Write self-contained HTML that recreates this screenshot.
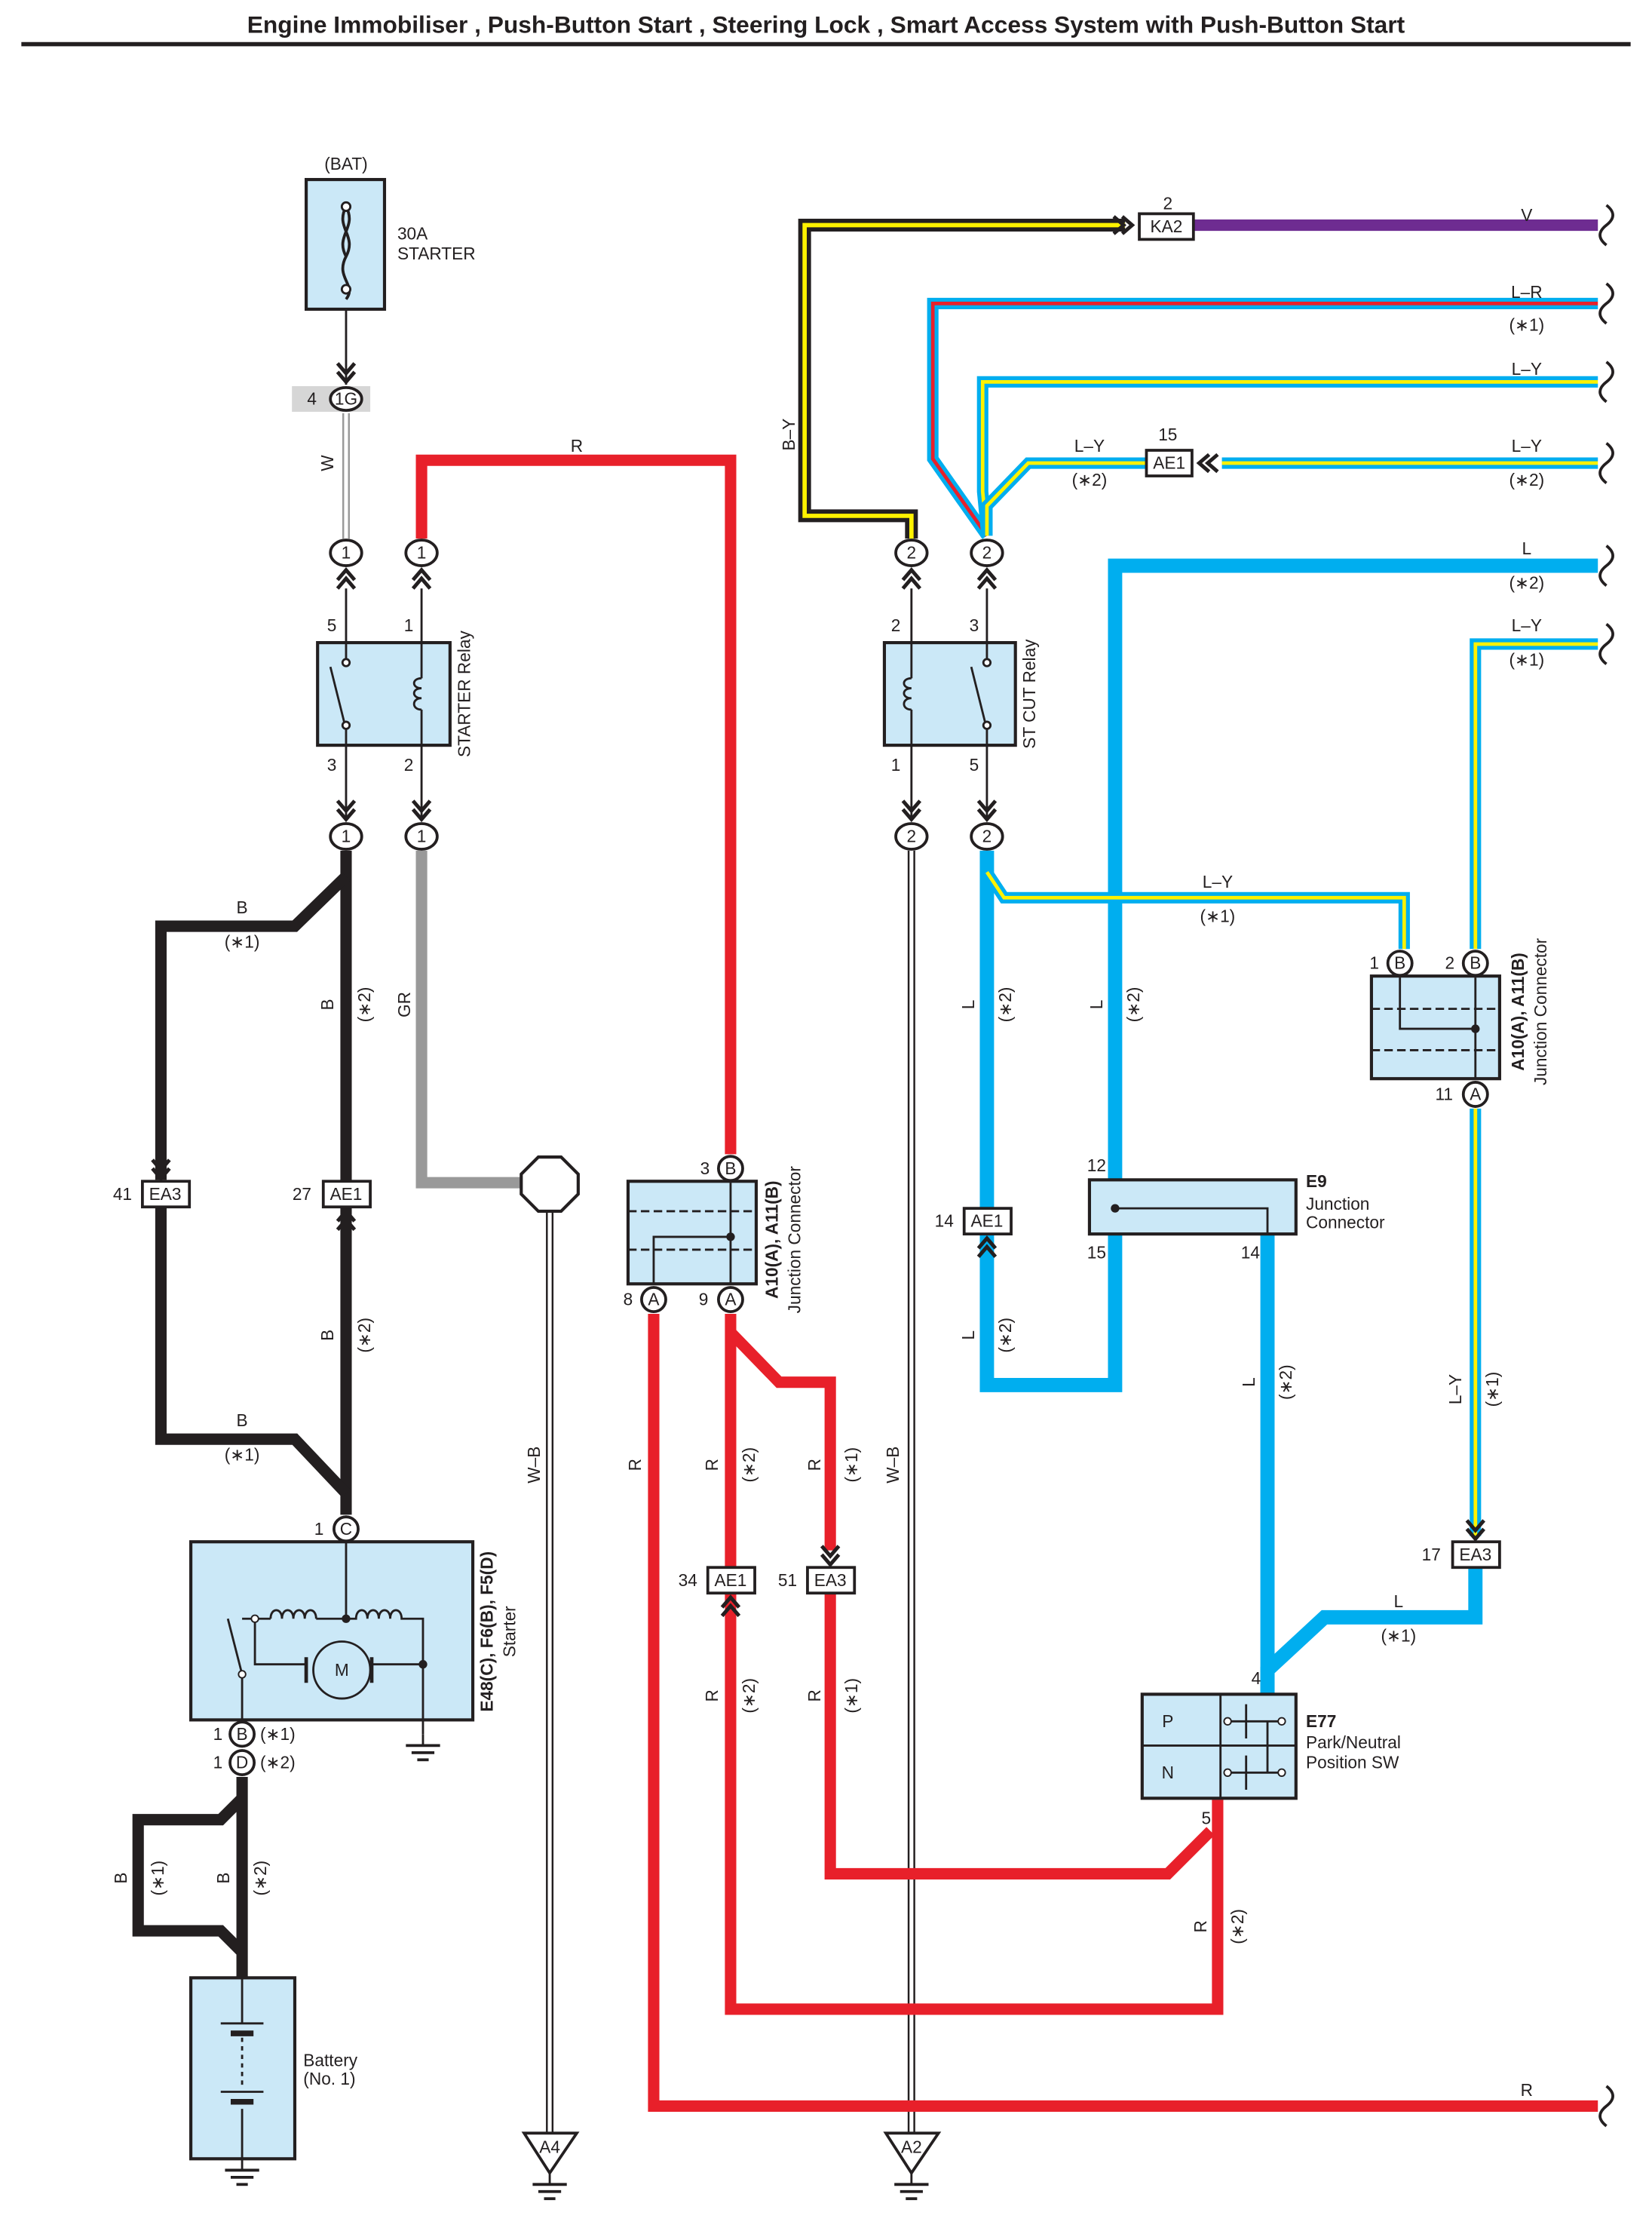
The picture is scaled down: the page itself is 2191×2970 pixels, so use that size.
<!DOCTYPE html>
<html><head><meta charset="utf-8"><style>
html,body{margin:0;padding:0;background:#fff}
svg{display:block}
text{font-family:"Liberation Sans",Arial,sans-serif;font-size:12px;fill:#231f20}
.b{font-weight:bold}
</style></head><body>
<svg width="2191" height="2970" viewBox="0 0 1160 1572" preserveAspectRatio="none" xmlns="http://www.w3.org/2000/svg">
<defs>
<path id="cu" d="M-6,7 L0,0 L6,7 M-6,13 L0,6 L6,13" stroke="#231f20" stroke-width="2.6" fill="none"/>
<path id="cd" d="M-6,-7 L0,0 L6,-7 M-6,-13 L0,-6 L6,-13" stroke="#231f20" stroke-width="2.6" fill="none"/>
<path id="cl" d="M7,-6 L0,0 L7,6 M13,-6 L6,0 L13,6" stroke="#231f20" stroke-width="2.6" fill="none"/>
<path id="cr" d="M-7,-6 L0,0 L-7,6 M-13,-6 L-6,0 L-13,6" stroke="#231f20" stroke-width="2.6" fill="none"/>
<path id="brk" d="M0,-14 q9,7 0,14 q-9,7 0,14" stroke="#231f20" stroke-width="2" fill="none" transform="translate(0,0)"/>
<g id="gnd"><line x1="0" y1="0" x2="0" y2="8" stroke="#231f20" stroke-width="1.5"/><line x1="-12" y1="8" x2="12" y2="8" stroke="#231f20" stroke-width="2"/><line x1="-8" y1="13" x2="8" y2="13" stroke="#231f20" stroke-width="2"/><line x1="-4" y1="18" x2="4" y2="18" stroke="#231f20" stroke-width="2"/></g>
</defs>

<text x="580" y="23" text-anchor="middle" class="b" style="font-size:16.8px">Engine Immobiliser , Push-Button Start , Steering Lock , Smart Access System with Push-Button Start</text>
<line x1="15" y1="31" x2="1145" y2="31" stroke="#231f20" stroke-width="3"/>

<g fill="none" stroke-linejoin="miter">
<path d="M640,378 V362 H565 V158 H790" stroke="#231f20" stroke-width="9"/>
<path d="M640,378 V362 H565 V158 H790" stroke="#fff200" stroke-width="3"/>
<path d="M838,158 H1125" stroke="#6e2c91" stroke-width="8"/>
<path d="M693,376 L655,322 V213 H1125" stroke="#00aeef" stroke-width="8"/>
<path d="M693,376 L655,322 V213 H1125" stroke="#e8202a" stroke-width="2.5"/>
<path d="M693,376 L690,345 V268 H1125" stroke="#00aeef" stroke-width="8"/>
<path d="M693,376 L690,345 V268 H1125" stroke="#fff200" stroke-width="2.5"/>
<path d="M693,376 V355 L722,325 H805" stroke="#00aeef" stroke-width="8"/>
<path d="M693,376 V355 L722,325 H805" stroke="#fff200" stroke-width="2.5"/>
<path d="M858,325 H1125" stroke="#00aeef" stroke-width="8"/>
<path d="M858,325 H1125" stroke="#fff200" stroke-width="2.5"/>
<path d="M1125,397 H783 V828" stroke="#00aeef" stroke-width="10"/>
<path d="M1125,452 H1036 V666" stroke="#00aeef" stroke-width="8"/>
<path d="M1125,452 H1036 V666" stroke="#fff200" stroke-width="2.5"/>
<path d="M693,597 V972 H783 V866" stroke="#00aeef" stroke-width="10"/>
<path d="M693,612 L705,630 H986 V666" stroke="#00aeef" stroke-width="8"/>
<path d="M693,612 L705,630 H986 V666" stroke="#fff200" stroke-width="2.5"/>
<path d="M1036,778 V1078" stroke="#00aeef" stroke-width="8"/>
<path d="M1036,778 V1078" stroke="#fff200" stroke-width="2.5"/>
<path d="M1036,1099 V1135 H930 L890,1172 V1190" stroke="#00aeef" stroke-width="10"/>
<path d="M890,866 V1190" stroke="#00aeef" stroke-width="10"/>
<path d="M638,597 V1498 M642,597 V1498" stroke="#231f20" stroke-width="1.3"/>
<path d="M384,850 V1498 M388,850 V1498" stroke="#231f20" stroke-width="1.3"/>
<path d="M241,290 V378 M245,290 V378" stroke="#999" stroke-width="1.3"/>
<path d="M296,378 V323 H513 V810" stroke="#e8202a" stroke-width="8"/>
<path d="M459,922 V1478 H1125" stroke="#e8202a" stroke-width="8"/>
<path d="M513,922 V1410 H855 V1263" stroke="#e8202a" stroke-width="8"/>
<path d="M513,935 L547,970 H583 V1088" stroke="#e8202a" stroke-width="8"/>
<path d="M583,1118 V1315 H820 L850,1285" stroke="#e8202a" stroke-width="8"/>
<path d="M296,597 V830 H366" stroke="#999" stroke-width="8"/>
<path d="M243,597 V1063" stroke="#231f20" stroke-width="8"/>
<path d="M243,615 L207,650 H113 V828 M113,847 V1010 H207 L243,1048" stroke="#231f20" stroke-width="8"/>
<path d="M170,1247 V1390 M170,1262 L155,1277 H97 V1355 H155 L170,1370" stroke="#231f20" stroke-width="8"/>
<path d="M243,217 V270" stroke="#231f20" stroke-width="1.5"/>
</g>

<g stroke="#231f20" stroke-width="2.2" fill="#cbe8f7">
<rect x="215" y="126" width="55" height="91"/>
<rect x="223" y="451" width="93" height="72"/>
<rect x="621" y="451" width="92" height="72"/>
<rect x="963" y="685" width="90" height="72"/>
<rect x="441" y="829" width="90" height="72"/>
<rect x="765" y="828" width="145" height="38"/>
<rect x="802" y="1189" width="108" height="73"/>
<rect x="134" y="1082" width="198" height="125"/>
<rect x="134" y="1388" width="73" height="127"/>
</g>
<rect x="205" y="271" width="55" height="18" fill="#d6d6d6"/>

<path d="M243,145 c-8,15 8,20 0,35 c-8,15 8,20 0,30 M243,145 c8,15 -8,20 0,35" stroke="#231f20" stroke-width="2" fill="none"/>
<circle cx="243" cy="145" r="3" fill="#fff" stroke="#231f20" stroke-width="1.5"/>
<circle cx="243" cy="203" r="3" fill="#fff" stroke="#231f20" stroke-width="1.5"/>

<g stroke="#231f20" stroke-width="1.5" fill="none">
<path d="M243,451 V462 M243,512 V523 M243,512 L232,468"/>
<circle cx="243" cy="465" r="2.5" fill="#fff"/><circle cx="243" cy="509" r="2.5" fill="#fff"/>
<path d="M296,451 V476 M296,498 V523 M296,476 c-7,0 -7,7 0,7 c-7,0 -7,7 0,7 c-7,0 -7,8 0,8"/>
<path d="M640,451 V476 M640,498 V523 M640,476 c-7,0 -7,7 0,7 c-7,0 -7,7 0,7 c-7,0 -7,8 0,8"/>
<path d="M693,451 V462 M693,512 V523 M693,512 L682,468"/>
<circle cx="693" cy="465" r="2.5" fill="#fff"/><circle cx="693" cy="509" r="2.5" fill="#fff"/>
<path d="M983,686 V722 H1036 V686 M1036,722 V757"/>
<path d="M963,708 H1053 M963,737 H1053" stroke-dasharray="6,3"/>
<path d="M441,850 H531 M441,877 H531" stroke-dasharray="6,3"/>
<path d="M513,830 V901 M459,901 V868 H513"/>
<path d="M783,848 H890 V866"/>
<path d="M857,1189 V1262 M802,1225 H910"/>
<path d="M862,1208 H900 M862,1244 H900 M875,1196 V1220 M875,1232 V1256 M890,1208 V1244"/>
<path d="M243,1082 V1136 M170,1207 V1175 L160,1136 M170,1136 H190 M190,1136 c0,-8 8,-8 8,0 c0,-8 8,-8 8,0 c0,-8 8,-8 8,0 c0,-8 8,-8 8,0 M222,1136 H250 c0,-8 8,-8 8,0 c0,-8 8,-8 8,0 c0,-8 8,-8 8,0 c0,-8 8,-8 8,0 H297 V1217 M179,1136 V1168 H215 M261,1168 H297"/>
<circle cx="240" cy="1172" r="20" fill="#cbe8f7"/>
<path d="M215,1163 V1181 M261,1163 V1181" stroke-width="2.5"/>
</g>
<circle cx="243" cy="1136" r="3" fill="#231f20"/>
<circle cx="1036" cy="722" r="3" fill="#231f20"/>
<circle cx="513" cy="868" r="3" fill="#231f20"/>
<circle cx="783" cy="848" r="3" fill="#231f20"/>
<circle cx="297" cy="1168" r="3" fill="#231f20"/>
<circle cx="179" cy="1136" r="2.5" fill="#fff" stroke="#231f20"/>
<circle cx="170" cy="1175" r="2.5" fill="#fff" stroke="#231f20"/>
<circle cx="862" cy="1208" r="2.5" fill="#fff" stroke="#231f20"/><circle cx="900" cy="1208" r="2.5" fill="#fff" stroke="#231f20"/>
<circle cx="862" cy="1244" r="2.5" fill="#fff" stroke="#231f20"/><circle cx="900" cy="1244" r="2.5" fill="#fff" stroke="#231f20"/>
<text x="240" y="1176" text-anchor="middle">M</text>
<text x="820" y="1212" text-anchor="middle">P</text>
<text x="820" y="1248" text-anchor="middle">N</text>
<g stroke="#231f20" stroke-width="1.5">
<line x1="170" y1="1388" x2="170" y2="1420"/><line x1="170" y1="1480" x2="170" y2="1515"/>
<line x1="155" y1="1420" x2="185" y2="1420"/><line x1="162" y1="1427" x2="178" y2="1427" stroke-width="4"/>
<line x1="170" y1="1430" x2="170" y2="1465" stroke-dasharray="3,3"/>
<line x1="155" y1="1468" x2="185" y2="1468"/><line x1="162" y1="1475" x2="178" y2="1475" stroke-width="4"/>
</g>
<use href="#gnd" x="170" y="1515"/>
<use href="#gnd" x="297" y="1217"/>
<use href="#gnd" x="386" y="1525"/>
<use href="#gnd" x="640" y="1525"/>

<polygon points="378,812 394,812 406,824 406,838 394,850 378,850 366,838 366,824" fill="#fff" stroke="#231f20" stroke-width="2.2"/>
<polygon points="368,1497 405,1497 386,1525" fill="#fff" stroke="#231f20" stroke-width="2"/>
<text x="386" y="1511" text-anchor="middle">A4</text>
<polygon points="622,1497 659,1497 640,1525" fill="#fff" stroke="#231f20" stroke-width="2"/>
<text x="640" y="1511" text-anchor="middle">A2</text>

<g fill="#fff" stroke="#231f20" stroke-width="2">
<rect x="800" y="150" width="38" height="18"/>
<rect x="805" y="316" width="32" height="18"/>
<rect x="100" y="829" width="33" height="18"/>
<rect x="227" y="829" width="33" height="18"/>
<rect x="677" y="848" width="33" height="18"/>
<rect x="1020" y="1082" width="33" height="18"/>
<rect x="497" y="1100" width="33" height="18"/>
<rect x="567" y="1100" width="33" height="18"/>
</g>
<g text-anchor="middle">
<text x="819" y="163">KA2</text><text x="821" y="329">AE1</text>
<text x="116" y="842">EA3</text><text x="243" y="842">AE1</text>
<text x="693" y="861">AE1</text><text x="1036" y="1095">EA3</text>
<text x="513" y="1113">AE1</text><text x="583" y="1113">EA3</text>
</g>
<use href="#cr" x="795" y="158"/>
<use href="#cl" x="842" y="325"/>
<use href="#cd" x="113" y="827"/>
<use href="#cu" x="243" y="850"/>
<use href="#cu" x="693" y="869"/>
<use href="#cd" x="1036" y="1080"/>
<use href="#cu" x="513" y="1121"/>
<use href="#cd" x="583" y="1098"/>
<use href="#cu" x="243" y="400"/><use href="#cu" x="296" y="400"/>
<use href="#cu" x="640" y="400"/><use href="#cu" x="693" y="400"/>
<use href="#cd" x="243" y="575"/><use href="#cd" x="296" y="575"/>
<use href="#cd" x="640" y="575"/><use href="#cd" x="693" y="575"/>
<use href="#cd" x="243" y="268"/>
<g stroke="#231f20" stroke-width="1.5">
<line x1="243" y1="413" x2="243" y2="451"/><line x1="296" y1="413" x2="296" y2="451"/>
<line x1="640" y1="413" x2="640" y2="451"/><line x1="693" y1="413" x2="693" y2="451"/>
<line x1="243" y1="523" x2="243" y2="575"/><line x1="296" y1="523" x2="296" y2="575"/>
<line x1="640" y1="523" x2="640" y2="575"/><line x1="693" y1="523" x2="693" y2="575"/>
</g>

<g fill="#fff" stroke="#231f20" stroke-width="2">
<ellipse cx="243" cy="280" rx="11" ry="8"/>
<ellipse cx="243" cy="388" rx="11" ry="9"/><ellipse cx="296" cy="388" rx="11" ry="9"/>
<ellipse cx="640" cy="388" rx="11" ry="9"/><ellipse cx="693" cy="388" rx="11" ry="9"/>
<ellipse cx="243" cy="587" rx="11" ry="9"/><ellipse cx="296" cy="587" rx="11" ry="9"/>
<ellipse cx="640" cy="587" rx="11" ry="9"/><ellipse cx="693" cy="587" rx="11" ry="9"/>
<circle cx="983" cy="676" r="8.5"/><circle cx="1036" cy="676" r="8.5"/><circle cx="1036" cy="768" r="8.5"/>
<circle cx="513" cy="820" r="8.5"/><circle cx="459" cy="912" r="8.5"/><circle cx="513" cy="912" r="8.5"/>
<circle cx="243" cy="1073" r="8.5"/><circle cx="170" cy="1217" r="8.5"/><circle cx="170" cy="1237" r="8.5"/>
</g>
<g text-anchor="middle" style="font-size:11px">
<text x="243" y="284">1G</text>
<text x="243" y="392">1</text><text x="296" y="392">1</text><text x="640" y="392">2</text><text x="693" y="392">2</text>
<text x="243" y="591">1</text><text x="296" y="591">1</text><text x="640" y="591">2</text><text x="693" y="591">2</text>
<text x="983" y="680">B</text><text x="1036" y="680">B</text><text x="1036" y="772">A</text>
<text x="513" y="824">B</text><text x="459" y="916">A</text><text x="513" y="916">A</text>
<text x="243" y="1077">C</text><text x="170" y="1221">B</text><text x="170" y="1241">D</text>
</g>

<g fill="#fff" stroke="none"><rect x="1122" y="140" width="20" height="1360"/></g>
<use href="#brk" x="1128" y="158"/><use href="#brk" x="1128" y="213"/><use href="#brk" x="1128" y="268"/>
<use href="#brk" x="1128" y="325"/><use href="#brk" x="1128" y="397"/><use href="#brk" x="1128" y="452"/>
<use href="#brk" x="1128" y="1478"/>

<text x="243" y="119" text-anchor="middle">(BAT)</text>
<text x="279" y="168">30A</text><text x="279" y="182">STARTER</text>
<text x="219" y="284" text-anchor="middle">4</text>
<text x="405" y="317" text-anchor="middle">R</text>
<text x="233" y="443" text-anchor="middle">5</text><text x="287" y="443" text-anchor="middle">1</text>
<text x="233" y="541" text-anchor="middle">3</text><text x="287" y="541" text-anchor="middle">2</text>
<text x="629" y="443" text-anchor="middle">2</text><text x="684" y="443" text-anchor="middle">3</text>
<text x="629" y="541" text-anchor="middle">1</text><text x="684" y="541" text-anchor="middle">5</text>
<text x="820" y="147" text-anchor="middle">2</text>
<text x="820" y="309" text-anchor="middle">15</text>
<text x="1072" y="155" text-anchor="middle">V</text>
<text x="1072" y="209" text-anchor="middle">L–R</text><text x="1072" y="232" text-anchor="middle">(∗1)</text>
<text x="1072" y="263" text-anchor="middle">L–Y</text>
<text x="1072" y="317" text-anchor="middle">L–Y</text><text x="1072" y="341" text-anchor="middle">(∗2)</text>
<text x="765" y="317" text-anchor="middle">L–Y</text><text x="765" y="341" text-anchor="middle">(∗2)</text>
<text x="1072" y="389" text-anchor="middle">L</text><text x="1072" y="413" text-anchor="middle">(∗2)</text>
<text x="1072" y="443" text-anchor="middle">L–Y</text><text x="1072" y="467" text-anchor="middle">(∗1)</text>
<text x="855" y="623" text-anchor="middle">L–Y</text><text x="855" y="647" text-anchor="middle">(∗1)</text>
<text x="965" y="680" text-anchor="middle">1</text><text x="1018" y="680" text-anchor="middle">2</text>
<text x="1014" y="772" text-anchor="middle">11</text>
<text x="770" y="822" text-anchor="middle">12</text><text x="770" y="883" text-anchor="middle">15</text><text x="878" y="883" text-anchor="middle">14</text>
<text x="917" y="833" class="b">E9</text><text x="917" y="849">Junction</text><text x="917" y="862">Connector</text>
<text x="663" y="861" text-anchor="middle">14</text>
<text x="1005" y="1095" text-anchor="middle">17</text>
<text x="982" y="1128" text-anchor="middle">L</text><text x="982" y="1152" text-anchor="middle">(∗1)</text>
<text x="882" y="1182" text-anchor="middle">4</text>
<text x="917" y="1212" class="b">E77</text><text x="917" y="1227">Park/Neutral</text><text x="917" y="1241">Position SW</text>
<text x="847" y="1280" text-anchor="middle">5</text>
<text x="495" y="824" text-anchor="middle">3</text>
<text x="441" y="916" text-anchor="middle">8</text><text x="494" y="916" text-anchor="middle">9</text>
<text x="483" y="1113" text-anchor="middle">34</text><text x="553" y="1113" text-anchor="middle">51</text>
<text x="86" y="842" text-anchor="middle">41</text><text x="212" y="842" text-anchor="middle">27</text>
<text x="170" y="641" text-anchor="middle">B</text><text x="170" y="665" text-anchor="middle">(∗1)</text>
<text x="170" y="1001" text-anchor="middle">B</text><text x="170" y="1025" text-anchor="middle">(∗1)</text>
<text x="224" y="1077" text-anchor="middle">1</text>
<text x="153" y="1221" text-anchor="middle">1</text><text x="195" y="1221" text-anchor="middle">(∗1)</text>
<text x="153" y="1241" text-anchor="middle">1</text><text x="195" y="1241" text-anchor="middle">(∗2)</text>
<text x="213" y="1450">Battery</text><text x="213" y="1463">(No. 1)</text>
<text x="1072" y="1471" text-anchor="middle">R</text>

<g text-anchor="middle">
<text transform="translate(234,325) rotate(-90)">W</text>
<text transform="translate(558,305) rotate(-90)">B–Y</text>
<text transform="translate(330,487) rotate(-90)">STARTER Relay</text>
<text transform="translate(727,487) rotate(-90)">ST CUT Relay</text>
<text transform="translate(234,705) rotate(-90)">B</text><text transform="translate(260,705) rotate(-90)">(∗2)</text>
<text transform="translate(234,937) rotate(-90)">B</text><text transform="translate(260,937) rotate(-90)">(∗2)</text>
<text transform="translate(288,705) rotate(-90)">GR</text>
<text transform="translate(684,705) rotate(-90)">L</text><text transform="translate(710,705) rotate(-90)">(∗2)</text>
<text transform="translate(774,705) rotate(-90)">L</text><text transform="translate(800,705) rotate(-90)">(∗2)</text>
<text transform="translate(684,937) rotate(-90)">L</text><text transform="translate(710,937) rotate(-90)">(∗2)</text>
<text transform="translate(881,970) rotate(-90)">L</text><text transform="translate(907,970) rotate(-90)">(∗2)</text>
<text transform="translate(1026,975) rotate(-90)">L–Y</text><text transform="translate(1052,975) rotate(-90)">(∗1)</text>
<text transform="translate(1070,710) rotate(-90)" class="b">A10(A), A11(B)</text>
<text transform="translate(1086,710) rotate(-90)">Junction Connector</text>
<text transform="translate(546,870) rotate(-90)" class="b">A10(A), A11(B)</text>
<text transform="translate(562,870) rotate(-90)">Junction Connector</text>
<text transform="translate(379,1028) rotate(-90)">W–B</text>
<text transform="translate(631,1028) rotate(-90)">W–B</text>
<text transform="translate(450,1028) rotate(-90)">R</text>
<text transform="translate(504,1028) rotate(-90)">R</text><text transform="translate(530,1028) rotate(-90)">(∗2)</text>
<text transform="translate(576,1028) rotate(-90)">R</text><text transform="translate(602,1028) rotate(-90)">(∗1)</text>
<text transform="translate(504,1190) rotate(-90)">R</text><text transform="translate(530,1190) rotate(-90)">(∗2)</text>
<text transform="translate(576,1190) rotate(-90)">R</text><text transform="translate(602,1190) rotate(-90)">(∗1)</text>
<text transform="translate(847,1352) rotate(-90)">R</text><text transform="translate(873,1352) rotate(-90)">(∗2)</text>
<text transform="translate(346,1145) rotate(-90)" class="b">E48(C), F6(B), F5(D)</text>
<text transform="translate(362,1145) rotate(-90)">Starter</text>
<text transform="translate(89,1318) rotate(-90)">B</text><text transform="translate(115,1318) rotate(-90)">(∗1)</text>
<text transform="translate(161,1318) rotate(-90)">B</text><text transform="translate(187,1318) rotate(-90)">(∗2)</text>
</g>
</svg>
</body></html>
